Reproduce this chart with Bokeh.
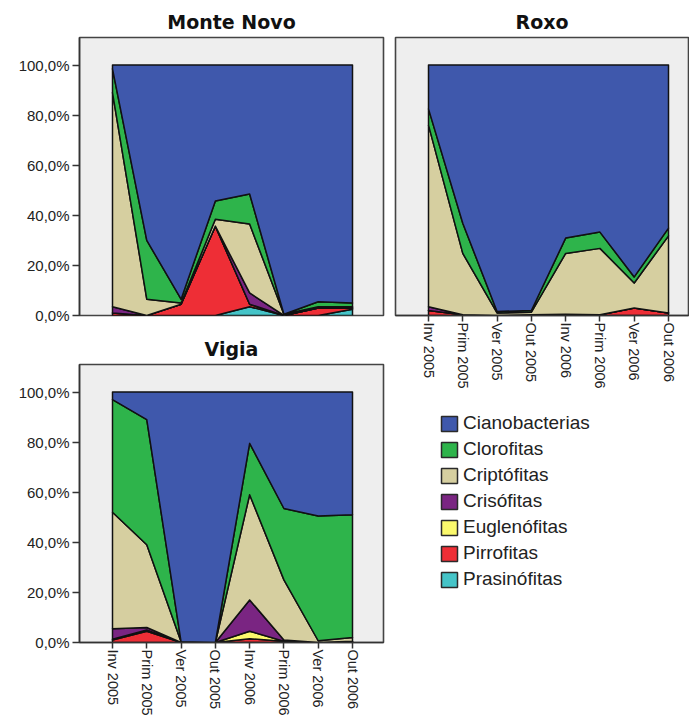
import math
import numpy as np
from bokeh.plotting import figure
from bokeh.layouts import row, column
from bokeh.models import Range1d, FixedTicker, Legend, LegendItem
from bokeh.embed import file_html
from bokeh.resources import INLINE

# ---------------- data ----------------
categories = ["Inv 2005", "Prim 2005", "Ver 2005", "Out 2005",
              "Inv 2006", "Prim 2006", "Ver 2006", "Out 2006"]
groups = ["Cianobacterias", "Clorofitas", "Criptófitas", "Crisófitas",
          "Euglenófitas", "Pirrofitas", "Prasinófitas"]
group_colors = ["#3F58AC", "#2EB44B", "#D6CFA0", "#7A2582",
                "#FBF96C", "#EE2E36", "#45C4C8"]
ytick_values = [0, 20, 40, 60, 80, 100]
ytick_labels = ["0,0%", "20,0%", "40,0%", "60,0%", "80,0%", "100,0%"]
panel_titles = ["Monte Novo", "Roxo", "Vigia"]

# Monte Novo (%)
mn_cianobacterias = [1.5, 70.0, 93.5, 54.3, 51.5, 99.5, 94.5, 95.0]
mn_clorofitas = [9.5, 23.5, 1.5, 7.3, 12.0, 0.0, 2.0, 1.5]
mn_criptofitas = [85.5, 6.5, 0.5, 2.7, 27.5, 0.5, 0.5, 0.5]
mn_crisofitas = [2.5, 0.0, 0.0, 0.0, 4.5, 0.0, 0.0, 0.0]
mn_euglenofitas = [0.0, 0.0, 0.0, 0.0, 0.0, 0.0, 0.0, 0.0]
mn_pirrofitas = [1.0, 0.0, 4.5, 35.7, 1.0, 0.0, 3.0, 0.5]
mn_prasinofitas = [0.0, 0.0, 0.0, 0.0, 3.5, 0.0, 0.0, 2.5]

# Roxo (%)
rx_cianobacterias = [17.5, 63.2, 98.4, 98.0, 69.1, 66.7, 84.6, 65.1]
rx_clorofitas = [6.5, 12.0, 0.6, 0.7, 6.1, 6.5, 2.4, 3.1]
rx_criptofitas = [72.5, 24.5, 1.0, 1.0, 24.3, 26.5, 10.0, 30.8]
rx_crisofitas = [1.5, 0.0, 0.0, 0.0, 0.0, 0.0, 0.0, 0.0]
rx_euglenofitas = [0.0, 0.0, 0.0, 0.0, 0.0, 0.0, 0.0, 0.0]
rx_pirrofitas = [2.0, 0.3, 0.0, 0.3, 0.5, 0.3, 3.0, 1.0]
rx_prasinofitas = [0.0, 0.0, 0.0, 0.0, 0.0, 0.0, 0.0, 0.0]

# Vigia (%)
vg_cianobacterias = [3.0, 11.0, 99.7, 100.0, 20.5, 46.5, 49.5, 49.0]
vg_clorofitas = [45.0, 50.0, 0.0, 0.0, 20.5, 28.5, 49.8, 49.0]
vg_criptofitas = [46.5, 33.0, 0.3, 0.0, 42.0, 24.0, 0.7, 1.5]
vg_crisofitas = [4.2, 1.0, 0.0, 0.0, 12.5, 0.5, 0.0, 0.0]
vg_euglenofitas = [0.3, 0.5, 0.0, 0.0, 3.0, 0.0, 0.0, 0.0]
vg_pirrofitas = [1.0, 4.5, 0.0, 0.0, 1.5, 0.5, 0.0, 0.5]
vg_prasinofitas = [0.0, 0.0, 0.0, 0.0, 0.0, 0.0, 0.0, 0.0]

monte_novo = [mn_cianobacterias, mn_clorofitas, mn_criptofitas, mn_crisofitas,
              mn_euglenofitas, mn_pirrofitas, mn_prasinofitas]
roxo = [rx_cianobacterias, rx_clorofitas, rx_criptofitas, rx_crisofitas,
        rx_euglenofitas, rx_pirrofitas, rx_prasinofitas]
vigia = [vg_cianobacterias, vg_clorofitas, vg_criptofitas, vg_crisofitas,
         vg_euglenofitas, vg_pirrofitas, vg_prasinofitas]

TICK_FONT = "Liberation Sans"
X_START = -0.9625


def make_panel(title, series, width, height, x_end, bl, br, bt, bb, show_x, show_y):
    p = figure(width=width, height=height,
               x_range=Range1d(X_START, x_end), y_range=Range1d(0, 111),
               toolbar_location=None, output_backend="svg", title=title,
               min_border_left=bl, min_border_right=br,
               min_border_top=bt, min_border_bottom=bb)
    p.background_fill_color = "#EEEEEE"
    p.border_fill_color = "white"
    p.outline_line_color = "#444444"
    p.outline_line_width = 1.6
    p.grid.visible = False
    p.title.align = "center"
    p.title.text_font = "DejaVu Sans"
    p.title.text_font_style = "bold"
    p.title.text_font_size = "19px"
    p.title.text_color = "#111111"
    p.title.standoff = 10

    xs = np.arange(len(categories), dtype=float)
    arr = np.array(series, dtype=float)
    tot = arr.sum(axis=0)
    base = np.zeros(len(categories))
    # stack from bottom (last legend item) to top (first legend item)
    for vals, col in zip(series[::-1], group_colors[::-1]):
        top = base + np.array(vals, dtype=float) / tot * 100.0
        px = list(xs) + list(xs[::-1])
        py = list(top) + list(base[::-1])
        p.patch(px, py, fill_color=col, line_color="#111111", line_width=1.5,
                line_join="round")
        base = top

    if show_x:
        ax = p.xaxis[0]
        ax.ticker = FixedTicker(ticks=list(range(len(categories))))
        ax.major_label_overrides = {i: c for i, c in enumerate(categories)}
        ax.major_label_orientation = -math.pi / 2
        ax.major_label_text_font = TICK_FONT
        ax.major_label_text_font_size = "14.5px"
        ax.major_label_text_color = "#222222"
        ax.major_label_standoff = 1
        ax.major_tick_out = 6
        ax.major_tick_in = 0
        ax.minor_tick_line_color = None
        ax.axis_line_color = "#333333"
        ax.axis_line_width = 1.5
        ax.major_tick_line_color = "#333333"
        ax.major_tick_line_width = 1.5
    else:
        p.xaxis.visible = False

    if show_y:
        ay = p.yaxis[0]
        ay.ticker = FixedTicker(ticks=ytick_values)
        ay.major_label_overrides = {v: l for v, l in zip(ytick_values, ytick_labels)}
        ay.major_label_text_font = TICK_FONT
        ay.major_label_text_font_size = "15px"
        ay.major_label_text_color = "#222222"
        ay.major_label_standoff = 3
        ay.major_tick_out = 7
        ay.major_tick_in = 0
        ay.minor_tick_line_color = None
        ay.axis_line_color = "#333333"
        ay.axis_line_width = 1.5
        ay.major_tick_line_color = "#333333"
        ay.major_tick_line_width = 1.5
    else:
        p.yaxis.visible = False
    return p


p_mn = make_panel(panel_titles[0], monte_novo, 389, 329, 7.904, 79, 6, 37, 14, False, True)
p_vg = make_panel(panel_titles[2], vigia, 389, 389, 7.904, 79, 6, 35, 76, True, True)
p_rx = make_panel(panel_titles[1], roxo, 300, 398, 7.583, 6, 1, 37, 83, True, False)

# legend panel
leg = figure(width=300, height=320, toolbar_location=None, output_backend="svg",
             x_range=Range1d(0, 1), y_range=Range1d(0, 1),
             min_border_left=6, min_border_top=0, min_border_right=1, min_border_bottom=0)
leg.axis.visible = False
leg.grid.visible = False
leg.outline_line_color = None
leg.background_fill_color = "white"
items = []
for g, c in zip(groups, group_colors):
    r = leg.rect(x=[10], y=[10], width=0.1, height=0.1, fill_color=c,
                 line_color="#2A2A2A", line_width=1.5)
    items.append(LegendItem(label=g, renderers=[r]))
legend = Legend(items=items, location=(44, 128), margin=0, padding=0,
                spacing=4, glyph_width=20, glyph_height=19, label_height=22,
                label_standoff=4, label_text_font="Liberation Sans",
                label_text_font_size="19px", label_text_color="#222222",
                border_line_color=None, background_fill_alpha=0)
leg.add_layout(legend)

layout = row(column(p_mn, p_vg), column(p_rx, leg))

open("out.html", "w").write(file_html(layout, INLINE))
